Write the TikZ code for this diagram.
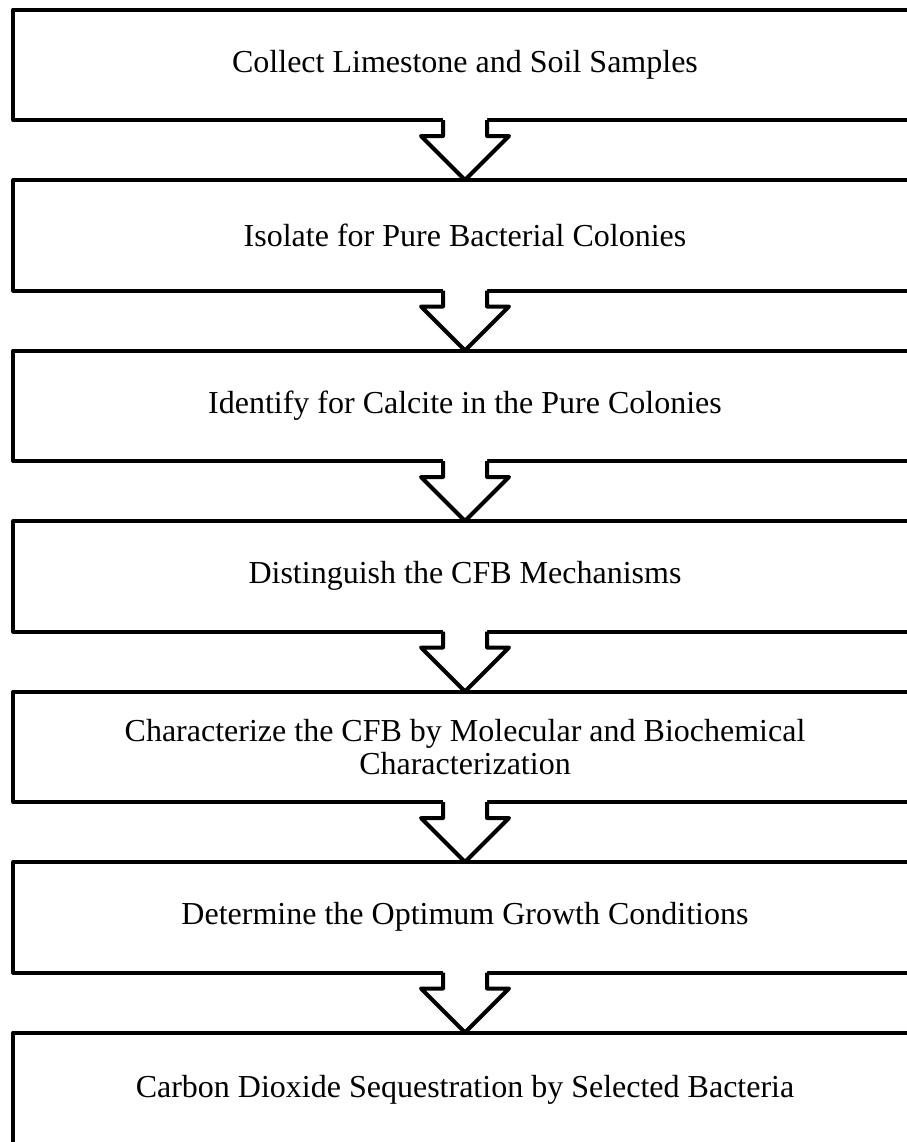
\documentclass[tikz,border=0pt]{standalone}
\usepackage{fontspec}
\setmainfont{Liberation Serif}
\usetikzlibrary{positioning,calc}

\begin{document}
\begin{tikzpicture}[x=0.4pt, y=-0.4pt, node distance=24pt,
    stage/.style={rectangle, draw, line width=1.6pt, line join=round, minimum width=361.2pt, minimum height=44.2pt, outer sep=0pt, align=center, font=\fontsize{12.8}{13.3}\selectfont},
    hollow/.style={line width=1.6pt, line join=round}]
  \clip (0,0) rectangle (907,1142);
  \node[stage] (Col) at (465,64.75) {Collect Limestone and Soil Samples};
  \node[stage, below=of Col] (Iso) {Isolate for Pure Bacterial Colonies};
  \node[stage, below=of Iso] (Idn) {Identify for Calcite in the Pure Colonies};
  \node[stage, below=of Idn] (Dis) {Distinguish the CFB Mechanisms};
  \node[stage, below=of Dis] (Chr) {Characterize the CFB by Molecular and Biochemical\\Characterization};
  \node[stage, below=of Chr] (Det) {Determine the Optimum Growth Conditions};
  \node[stage, below=of Det, minimum height=46pt] (Seq) {Carbon Dioxide Sequestration by Selected Bacteria};
  % block arrows between the stages
  \foreach \a/\b in {Col/Iso, Iso/Idn, Idn/Dis, Dis/Chr, Chr/Det, Det/Seq}{
    \fill[white] ($(\a.south)+(-22,-3)$) -- ($(\a.south)+(-22,16)$) -- ($(\a.south)+(-44,16)$) -- (\b.north)
      -- ($(\a.south)+(44,16)$) -- ($(\a.south)+(22,16)$) -- ($(\a.south)+(22,-3)$) -- cycle;
    \draw[hollow] ($(\a.south)+(-22,0)$) -- ($(\a.south)+(-22,16)$) -- ($(\a.south)+(-44,16)$) -- (\b.north)
      -- ($(\a.south)+(44,16)$) -- ($(\a.south)+(22,16)$) -- ($(\a.south)+(22,0)$);
  }
\end{tikzpicture}
\end{document}
